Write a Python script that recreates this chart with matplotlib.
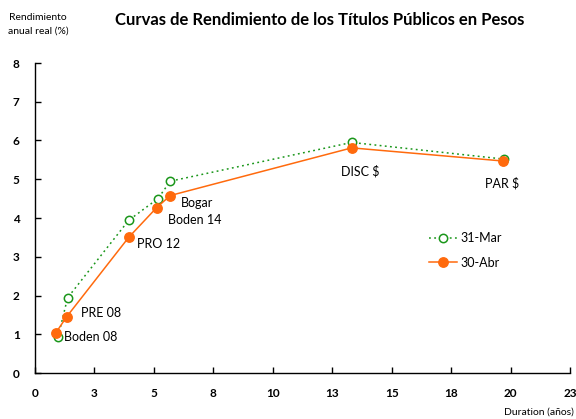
import numpy as np
import matplotlib
matplotlib.use('Agg')
import matplotlib.pyplot as plt

plt.rcParams['font.family'] = ['Lato', 'DejaVu Sans']

# datos
bonos = ['Boden 08', 'PRE 08', 'PRO 12', 'Boden 14', 'Bogar', 'DISC $', 'PAR $']
dur_mar = [0.97, 1.37, 3.94, 5.17, 5.69, 13.32, 19.72]
rend_mar = [0.93, 1.94, 3.94, 4.50, 4.95, 5.95, 5.52]
dur_abr = [0.88, 1.33, 3.94, 5.12, 5.69, 13.32, 19.69]
rend_abr = [1.04, 1.45, 3.50, 4.27, 4.58, 5.81, 5.47]
xticks = [0, 2.5, 5, 7.5, 10, 12.5, 15, 17.5, 20, 22.5]
xlabels = ['0', '3', '5', '8', '10', '13', '15', '18', '20', '23']

# offsets de las etiquetas (pixeles)
offs = [(8, -4), (14, 4), (8, -7), (11, -12), (11, -7), (-11, -23), (-18, -22)]

verde = '#1a961a'
naranja = '#ff6a0d'

fig = plt.figure(figsize=(5.76, 4.19), dpi=100)
ax = fig.add_axes([35/576, 1 - 373/419, 535/576, 310/419])

ax.plot(dur_mar, rend_mar, color=verde, ls=(0, (1.2, 2.2)), lw=1.1,
        marker='o', ms=6, mfc='white', mec=verde, mew=1.1, label='31-Mar')
ax.plot(dur_abr, rend_abr, color=naranja, ls='-', lw=1.1,
        marker='o', ms=6.8, mfc=naranja, mec=naranja, label='30-Abr')

for i, b in enumerate(bonos):
    ax.annotate(b, (dur_abr[i], rend_abr[i]), xytext=offs[i],
                textcoords='offset pixels', fontsize=9, ha='left', va='center')

ax.set_xlim(0, 22.5)
ax.set_ylim(0, 8)
ax.set_xticks(xticks)
ax.set_xticklabels(xlabels)
ax.set_yticks(np.arange(0, 9))
for s in ['top', 'right']:
    ax.spines[s].set_visible(False)
ax.spines['left'].set_linewidth(1.0)
ax.spines['bottom'].set_linewidth(1.0)
ax.tick_params(direction='in', length=4, width=1, labelsize=8.5, pad=11)
for lbl in ax.get_xticklabels() + ax.get_yticklabels():
    lbl.set_fontweight('bold')

ax.legend(loc='upper left', bbox_to_anchor=(383/535, 1 - (221 - 63)/310),
          frameon=False, fontsize=9, handlelength=2.2, handletextpad=0.3,
          labelspacing=1.0)

fig.text(320/576, 1 - 20/419, 'Curvas de Rendimiento de los Títulos Públicos en Pesos',
         ha='center', va='center', fontsize=12, fontweight='bold')
fig.text(38/576, 1 - 24/419, 'Rendimiento\nanual real (%)', ha='center', va='center',
         fontsize=7.5, linespacing=1.6)
fig.text(574/576, 1 - 412/419, 'Duration (años)', ha='right', va='center', fontsize=7.5)

fig.savefig('out.png', dpi=100)
